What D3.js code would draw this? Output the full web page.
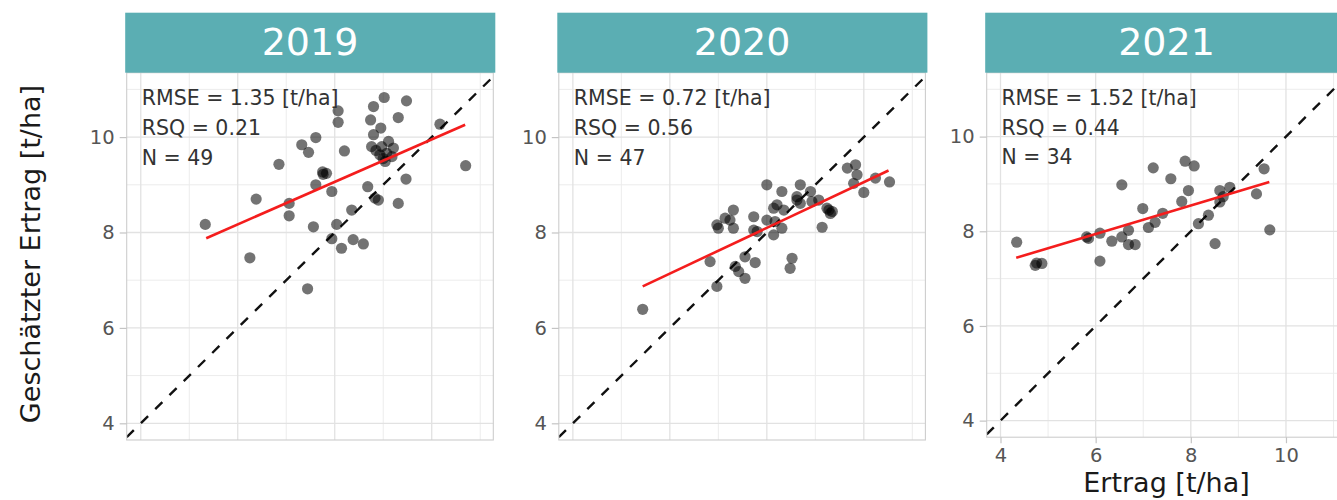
<!DOCTYPE html>
<html>
<head>
<meta charset="utf-8">
<script src="https://cdn.jsdelivr.net/npm/d3@7"></script>
<style>
  body { margin: 0; background: #fff; }
  svg { display: block; font-family: "DejaVu Sans", sans-serif; }
</style>
</head>
<body>
<svg id="chart" width="1337" height="500"></svg>
<script>
// Observed yield (Ertrag) vs. estimated yield per year, t/ha
const years = ["2019", "2020", "2021"];

const obs2019 = [5.33, 6.25, 6.38, 6.85, 7.06, 7.06, 7.32, 7.46, 7.61, 7.56, 7.44, 7.61, 7.76, 7.83, 7.75, 7.94, 8.04,
  7.94, 8.14, 8.07, 8.07, 8.20, 8.35, 8.38, 8.59, 8.68, 8.80, 9.02, 8.74, 8.95, 8.80, 8.76, 8.97, 9.11, 8.93, 9.07,
  9.18, 9.04, 9.21, 9.00, 8.85, 8.83, 8.90, 9.48, 9.31, 9.47, 9.31, 10.17, 10.70];
const est2019 = [8.17, 7.47, 8.70, 9.43, 8.61, 8.35, 9.84, 9.68, 9.99, 8.12, 6.82, 9.00, 9.22, 9.24, 9.27, 8.86, 8.17,
  7.87, 7.67, 10.55, 10.31, 9.71, 8.47, 7.85, 7.76, 8.96, 10.64, 10.83, 10.36, 10.19, 10.05, 9.80, 9.80, 9.91, 9.63, 9.66,
  9.59, 9.49, 9.77, 9.55, 9.72, 8.72, 8.68, 10.76, 10.41, 9.12, 8.61, 10.27, 9.40];

const obs2020 = [5.44, 6.83, 6.97, 7.00, 7.14, 7.31, 7.31, 7.24, 7.35, 7.42, 7.55, 7.55, 7.76, 7.73, 7.73, 8.00, 8.00,
  8.14, 8.21, 8.31, 8.31, 8.17, 8.35, 8.52, 8.48, 8.62, 8.69, 8.69, 8.90, 9.07, 9.24, 9.35, 9.28, 9.14, 9.66, 9.83,
  9.86, 9.79, 10.00, 10.24, 10.53, 8.14, 7.80, 8.93, 6.97, 8.62, 9.31];
const est2020 = [6.39, 7.39, 6.87, 8.09, 8.30, 8.47, 8.09, 8.26, 7.29, 7.18, 7.04, 7.49, 7.37, 8.33, 8.05, 9.00, 8.26,
  7.95, 8.58, 8.86, 8.09, 8.23, 8.47, 7.46, 7.25, 8.68, 8.61, 9.00, 8.86, 8.68, 8.51, 8.44, 8.47, 8.11, 9.35, 9.42,
  9.21, 9.03, 8.84, 9.14, 9.06, 8.51, 8.02, 8.65, 8.16, 8.75, 8.40];

const obs2021 = [4.34, 4.73, 4.87, 4.76, 5.81, 5.85, 6.09, 6.09, 6.34, 6.55, 6.55, 6.69, 6.69, 6.83, 6.99, 7.11, 7.21,
  7.25, 7.41, 7.58, 7.81, 7.88, 8.07, 7.95, 8.16, 8.37, 8.51, 8.61, 8.68, 8.82, 8.61, 9.38, 9.54, 9.66];
const est2021 = [7.77, 7.28, 7.32, 7.33, 7.88, 7.85, 7.96, 7.37, 7.79, 8.98, 7.88, 8.02, 7.72, 7.72, 8.48, 8.08, 9.34,
  8.19, 8.38, 9.11, 8.63, 9.48, 9.38, 8.86, 8.16, 8.34, 7.74, 8.86, 8.73, 8.93, 8.62, 8.79, 9.32, 8.03];

// Reported fit statistics
const rmse = [1.35, 0.72, 1.52];
const rsq = [0.21, 0.56, 0.44];

// Linear fit (start and end of the fitted segment)
const fitObs2019 = [5.35, 10.69], fitEst2019 = [7.88, 10.26];
const fitObs2020 = [5.44, 10.51], fitEst2020 = [6.87, 9.30];
const fitObs2021 = [4.33, 9.65], fitEst2021 = [7.44, 9.04];

const majorTicks = [4, 6, 8, 10];
const minorTicks = [5, 7, 9, 11];

const obsByYear = [obs2019, obs2020, obs2021];
const estByYear = [est2019, est2020, est2021];
const fitObsByYear = [fitObs2019, fitObs2020, fitObs2021];
const fitEstByYear = [fitEst2019, fitEst2020, fitEst2021];

// Facet frames
const frames = [
  { left: 126.7, top: 72.7, w: 366.6, h: 367.3, xAxis: false },
  { left: 558.8, top: 72.7, w: 366.6, h: 367.3, xAxis: false },
  { left: 986.7, top: 72.7, w: 359.7, h: 364.5, xAxis: true }
];
const xDomain = [3.71, 11.27];
const yDomain = [3.65, 11.35];

const svg = d3.select("#chart");
const defs = svg.append("defs");

frames.forEach((f, i) => {
  const x = d3.scaleLinear().domain(xDomain).range([f.left, f.left + f.w]);
  const y = d3.scaleLinear().domain(yDomain).range([f.top + f.h, f.top]);
  const g = svg.append("g");
  const k = f.h / 367.3;

  defs.append("clipPath").attr("id", "clip" + i)
    .append("rect").attr("x", f.left).attr("y", f.top).attr("width", f.w).attr("height", f.h);

  // grid
  const grid = g.append("g");
  grid.selectAll(".vmin").data(minorTicks).join("line")
    .attr("x1", d => x(d)).attr("x2", d => x(d)).attr("y1", f.top).attr("y2", f.top + f.h)
    .attr("stroke", "#ececec").attr("stroke-width", 1);
  grid.selectAll(".hmin").data(minorTicks).join("line")
    .attr("y1", d => y(d)).attr("y2", d => y(d)).attr("x1", f.left).attr("x2", f.left + f.w)
    .attr("stroke", "#ececec").attr("stroke-width", 1);
  grid.selectAll(".vmaj").data(majorTicks).join("line")
    .attr("x1", d => x(d)).attr("x2", d => x(d)).attr("y1", f.top).attr("y2", f.top + f.h)
    .attr("stroke", "#e2e2e2").attr("stroke-width", 1.3);
  grid.selectAll(".hmaj").data(majorTicks).join("line")
    .attr("y1", d => y(d)).attr("y2", d => y(d)).attr("x1", f.left).attr("x2", f.left + f.w)
    .attr("stroke", "#e2e2e2").attr("stroke-width", 1.3);

  const plot = g.append("g").attr("clip-path", `url(#clip${i})`);

  // 1:1 reference line
  plot.append("line")
    .attr("x1", x(xDomain[0])).attr("y1", y(xDomain[0]))
    .attr("x2", x(xDomain[1])).attr("y2", y(xDomain[1]))
    .attr("stroke", "#111").attr("stroke-width", 2.4)
    .attr("stroke-dasharray", "10,10");

  // observations
  const pts = obsByYear[i].map((o, j) => ({ o, e: estByYear[i][j] }));
  plot.selectAll("circle").data(pts).join("circle")
    .attr("cx", d => x(d.o)).attr("cy", d => y(d.e)).attr("r", 5.6)
    .attr("fill", "#000").attr("fill-opacity", 0.55);

  // linear fit
  const line = d3.line().x(d => x(d[0])).y(d => y(d[1]));
  plot.append("path")
    .datum(fitObsByYear[i].map((v, j) => [v, fitEstByYear[i][j]]))
    .attr("d", line).attr("fill", "none")
    .attr("stroke", "#f41d1d").attr("stroke-width", 2.6);

  // panel border
  g.append("rect").attr("x", f.left).attr("y", f.top).attr("width", f.w).attr("height", f.h)
    .attr("fill", "none").attr("stroke", "#cdcdcd").attr("stroke-width", 1.1);

  // strip
  g.append("rect").attr("x", f.left - 1.5).attr("y", 12.7).attr("width", f.w + 3.5).attr("height", f.top - 12.7)
    .attr("fill", "#5baeb3");
  g.append("text").attr("x", f.left + f.w / 2).attr("y", 55)
    .attr("text-anchor", "middle").attr("fill", "#fff").attr("font-size", 38)
    .text(years[i]);

  // y axis
  const ya = g.append("g").attr("transform", `translate(${f.left},0)`)
    .call(d3.axisLeft(y).tickValues(majorTicks).tickSize(7).tickPadding(5));
  ya.select(".domain").remove();
  ya.selectAll(".tick line").attr("stroke", "#c4c4c4").attr("stroke-width", 1.2);
  ya.selectAll(".tick text").attr("fill", "#555").attr("font-size", 19.5)
    .attr("font-family", "DejaVu Sans, sans-serif");

  // x axis (bottom row only)
  if (f.xAxis) {
    const xa = g.append("g").attr("transform", `translate(0,${f.top + f.h})`)
      .call(d3.axisBottom(x).tickValues(majorTicks).tickSize(6).tickPadding(5));
    xa.select(".domain").remove();
    xa.selectAll(".tick line").attr("stroke", "#c4c4c4").attr("stroke-width", 1.2);
    xa.selectAll(".tick text").attr("fill", "#555").attr("font-size", 19.5)
      .attr("font-family", "DejaVu Sans, sans-serif");
  }

  // fit statistics
  const lines = [
    `RMSE = ${rmse[i].toFixed(2)} [t/ha]`,
    `RSQ = ${rsq[i].toFixed(2)}`,
    `N = ${pts.length}`
  ];
  g.selectAll(".stat").data(lines).join("text")
    .attr("x", x(4) + 1).attr("y", (d, j) => f.top + (32.3 + 30 * j) * k)
    .attr("fill", "#333").attr("font-size", 20.5 * k)
    .text(d => d);
});

// axis titles
svg.append("text")
  .attr("transform", "translate(40,254) rotate(-90)")
  .attr("text-anchor", "middle").attr("font-size", 27).attr("fill", "#1a1a1a")
  .text("Geschätzter Ertrag [t/ha]");
svg.append("text")
  .attr("x", 1166.5).attr("y", 492)
  .attr("text-anchor", "middle").attr("font-size", 27).attr("fill", "#1a1a1a")
  .text("Ertrag [t/ha]");
</script>
</body>
</html>
